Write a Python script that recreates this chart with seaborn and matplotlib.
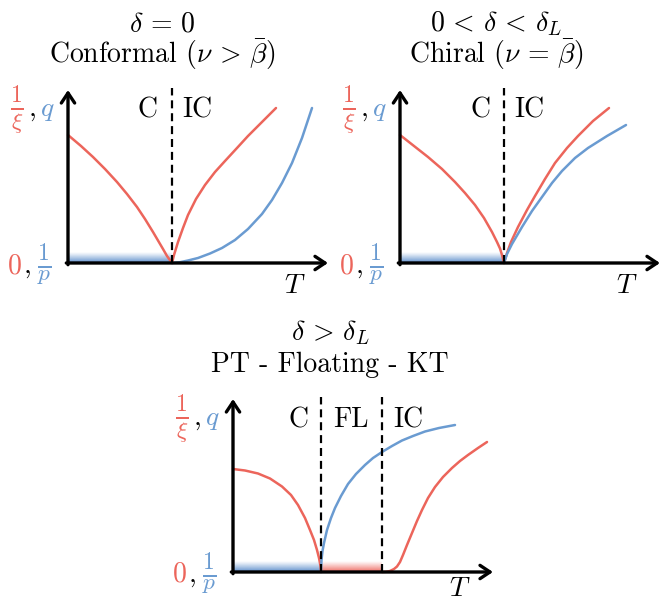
import numpy as np
import matplotlib
matplotlib.use("Agg")
import matplotlib.pyplot as plt
import seaborn as sns
from matplotlib.colors import to_rgb

sns.set_style("white")
plt.rcParams["font.family"] = ["cmr10", "DejaVu Serif"]
plt.rcParams["mathtext.fontset"] = "cm"
plt.rcParams["axes.unicode_minus"] = False
plt.rcParams["text.color"] = "black"

RED = "#EC655B"
BLUE = "#6A9BD1"
BAND_BLUE = "#5B8DCB"
BAND_RED = "#EE6A62"

# ---- conformal panel (delta = 0) ----
conf_tc = 1.04
conf_xi_low_T = [0.00, 0.13, 0.25, 0.37, 0.49, 0.59, 0.69, 0.77, 0.85, 0.90, 0.95, 0.99, 1.04]
conf_xi_low_Y = [1.28, 1.17, 1.06, 0.94, 0.81, 0.69, 0.56, 0.44, 0.31, 0.225, 0.14, 0.07, 0.00]
conf_xi_high_T = [1.04, 1.06, 1.10, 1.15, 1.20, 1.28, 1.37, 1.47, 1.57, 1.69, 1.80, 1.94, 2.08]
conf_xi_high_Y = [0.00, 0.08, 0.21, 0.35, 0.48, 0.64, 0.78, 0.91, 1.02, 1.15, 1.27, 1.41, 1.55]
conf_q_T = [1.04, 1.12, 1.20, 1.30, 1.42, 1.54, 1.67, 1.80, 1.94, 2.04, 2.14, 2.24, 2.34, 2.44]
conf_q_Y = [0.00, 0.008, 0.025, 0.05, 0.095, 0.15, 0.23, 0.34, 0.49, 0.63, 0.80, 1.00, 1.25, 1.55]

# ---- chiral panel (0 < delta < delta_L) ----
chir_tc = 1.04
chir_xi_low_T = [0.00, 0.14, 0.28, 0.42, 0.55, 0.65, 0.75, 0.84, 0.92, 0.97, 1.00, 1.02, 1.04]
chir_xi_low_Y = [1.28, 1.17, 1.06, 0.94, 0.81, 0.70, 0.58, 0.45, 0.31, 0.21, 0.145, 0.08, 0.00]
chir_xi_high_T = [1.04, 1.07, 1.11, 1.18, 1.27, 1.35, 1.45, 1.55, 1.67, 1.78, 1.93, 2.09]
chir_xi_high_Y = [0.00, 0.10, 0.21, 0.36, 0.53, 0.67, 0.84, 1.00, 1.15, 1.27, 1.42, 1.55]
chir_q_T = [1.04, 1.07, 1.12, 1.22, 1.32, 1.42, 1.52, 1.62, 1.75, 1.88, 2.07, 2.26]
chir_q_Y = [0.00, 0.09, 0.19, 0.36, 0.52, 0.66, 0.80, 0.92, 1.05, 1.15, 1.27, 1.38]

# ---- floating phase panel (delta > delta_L) ----
fl_t1 = 0.88
fl_t2 = 1.49
fl_xi_low_T = [0.00, 0.12, 0.25, 0.37, 0.49, 0.58, 0.65, 0.72, 0.77, 0.81, 0.84, 0.86, 0.875, 0.88]
fl_xi_low_Y = [1.03, 1.015, 0.985, 0.935, 0.855, 0.77, 0.67, 0.54, 0.42, 0.32, 0.22, 0.14, 0.06, 0.00]
fl_q_T = [0.88, 0.885, 0.895, 0.91, 0.94, 0.98, 1.02, 1.08, 1.15, 1.23, 1.32, 1.40, 1.49,
          1.59, 1.69, 1.80, 1.92, 2.06, 2.22]
fl_q_Y = [0.00, 0.12, 0.21, 0.29, 0.42, 0.54, 0.64, 0.76, 0.88, 0.98, 1.07, 1.14, 1.20,
          1.26, 1.315, 1.36, 1.405, 1.44, 1.47]
fl_xi_high_T = [1.49, 1.53, 1.57, 1.61, 1.64, 1.67, 1.70, 1.74, 1.79, 1.84, 1.89, 1.95, 2.02,
                2.10, 2.19, 2.27, 2.35, 2.45, 2.54]
fl_xi_high_Y = [0.00, 0.002, 0.01, 0.03, 0.055, 0.10, 0.17, 0.27, 0.39, 0.51, 0.62, 0.74, 0.85,
                0.95, 1.04, 1.11, 1.17, 1.24, 1.30]

titles = [
    (r"$\delta\,=\,0$", r"Conformal $(\nu\,>\,\bar{\beta})$"),
    (r"$0\,<\,\delta\,<\,\delta_L$", r"Chiral $(\nu\,=\,\bar{\beta})$"),
    (r"$\delta\,>\,\delta_L$", r"PT - Floating - KT"),
]

W, H = 661, 602
fig = plt.figure(figsize=(W / 100, H / 100), dpi=100)
FS = 20
FS_FRAC = 24
XL, XR, YB, YT = -0.66, 2.64, -0.40, 2.00


def make_axes(x0, y0):
    """Axes whose origin sits at pixel (x0, y0) measured from the top-left; 100 px per unit."""
    rect = [(x0 + XL * 100) / W, (H - (y0 - YB * 100)) / H,
            (XR - XL) * 100 / W, (YT - YB) * 100 / H]
    ax = fig.add_axes(rect)
    ax.axis("off")
    return ax


def band(ax, t0, t1, color, h=0.11):
    rgb = to_rgb(color)
    n = 64
    img = np.zeros((n, 1, 4))
    img[..., :3] = rgb
    img[:, 0, 3] = np.linspace(1.0, 0.0, n) ** 1.1
    ax.imshow(img, origin="lower", extent=[t0, t1, 0, h], aspect="auto",
              interpolation="bilinear", zorder=1)


def curve(ax, T, Y, color):
    sns.lineplot(x=T, y=Y, ax=ax, color=color, lw=1.8, sort=False,
                 estimator=None, legend=False, zorder=3)


def frame(ax, title_pair, title_x, t_label_y=-0.30):
    arrow = dict(arrowstyle="->,head_length=0.36,head_width=0.24", lw=2.4,
                 color="black", shrinkA=0, shrinkB=0, mutation_scale=20)
    ax.annotate("", xy=(2.60, 0), xytext=(-0.017, 0), arrowprops=arrow, zorder=5)
    ax.annotate("", xy=(0, 1.73), xytext=(0, -0.017), arrowprops=arrow, zorder=5)
    # vertical axis labels
    ax.text(-0.51, 1.48, r"$\frac{1}{\xi}$", color=RED, fontsize=FS_FRAC, ha="center", va="baseline")
    ax.text(-0.365, 1.47, r"$,$", color="black", fontsize=FS, ha="center", va="baseline")
    ax.text(-0.205, 1.47, r"$q$", color=BLUE, fontsize=FS, ha="center", va="baseline")
    ax.text(-0.54, -0.10, r"$0$", color=RED, fontsize=FS, ha="center", va="baseline")
    ax.text(-0.415, -0.10, r"$,$", color="black", fontsize=FS, ha="center", va="baseline")
    ax.text(-0.24, -0.09, r"$\frac{1}{p}$", color=BLUE, fontsize=FS_FRAC, ha="center", va="baseline")
    ax.text(2.27, t_label_y, r"$T$", color="black", fontsize=FS, ha="center", va="baseline")
    ax.text(title_x, 2.315, title_pair[0], fontsize=FS, ha="center", va="baseline")
    ax.text(title_x, 2.00, title_pair[1], fontsize=FS, ha="center", va="baseline")


def vdash(ax, t):
    ax.vlines(t, 0, 1.75, colors="black", lw=1.6, linestyles=(0, (3.6, 2.2)), zorder=4)


def finish(ax):
    ax.set_xlim(XL, XR)
    ax.set_ylim(YB, YT)


# conformal
ax1 = make_axes(68, 263)
band(ax1, 0, conf_tc, BAND_BLUE)
curve(ax1, conf_xi_low_T, conf_xi_low_Y, RED)
curve(ax1, conf_xi_high_T, conf_xi_high_Y, RED)
curve(ax1, conf_q_T, conf_q_Y, BLUE)
vdash(ax1, conf_tc)
ax1.text(0.795, 1.46, "C", fontsize=FS, ha="center", va="baseline")
ax1.text(1.295, 1.46, "IC", fontsize=FS, ha="center", va="baseline")
frame(ax1, titles[0], 0.94)
finish(ax1)

# chiral
ax2 = make_axes(400, 263)
band(ax2, 0, chir_tc, BAND_BLUE)
curve(ax2, chir_xi_low_T, chir_xi_low_Y, RED)
curve(ax2, chir_xi_high_T, chir_xi_high_Y, RED)
curve(ax2, chir_q_T, chir_q_Y, BLUE)
vdash(ax2, chir_tc)
ax2.text(0.805, 1.46, "C", fontsize=FS, ha="center", va="baseline")
ax2.text(1.295, 1.46, "IC", fontsize=FS, ha="center", va="baseline")
frame(ax2, titles[1], 0.96)
finish(ax2)

# floating phase
ax3 = make_axes(233, 572)
band(ax3, 0, fl_t1, BAND_BLUE)
band(ax3, fl_t1, fl_t2, BAND_RED)
curve(ax3, fl_xi_low_T, fl_xi_low_Y, RED)
curve(ax3, fl_q_T, fl_q_Y, BLUE)
curve(ax3, fl_xi_high_T, fl_xi_high_Y, RED)
vdash(ax3, fl_t1)
vdash(ax3, fl_t2)
ax3.text(0.66, 1.45, "C", fontsize=FS, ha="center", va="baseline")
ax3.text(1.18, 1.45, "FL", fontsize=FS, ha="center", va="baseline")
ax3.text(1.755, 1.45, "IC", fontsize=FS, ha="center", va="baseline")
frame(ax3, titles[2], 0.97, t_label_y=-0.24)
finish(ax3)

fig.savefig("out.png", dpi=100, facecolor="white")
